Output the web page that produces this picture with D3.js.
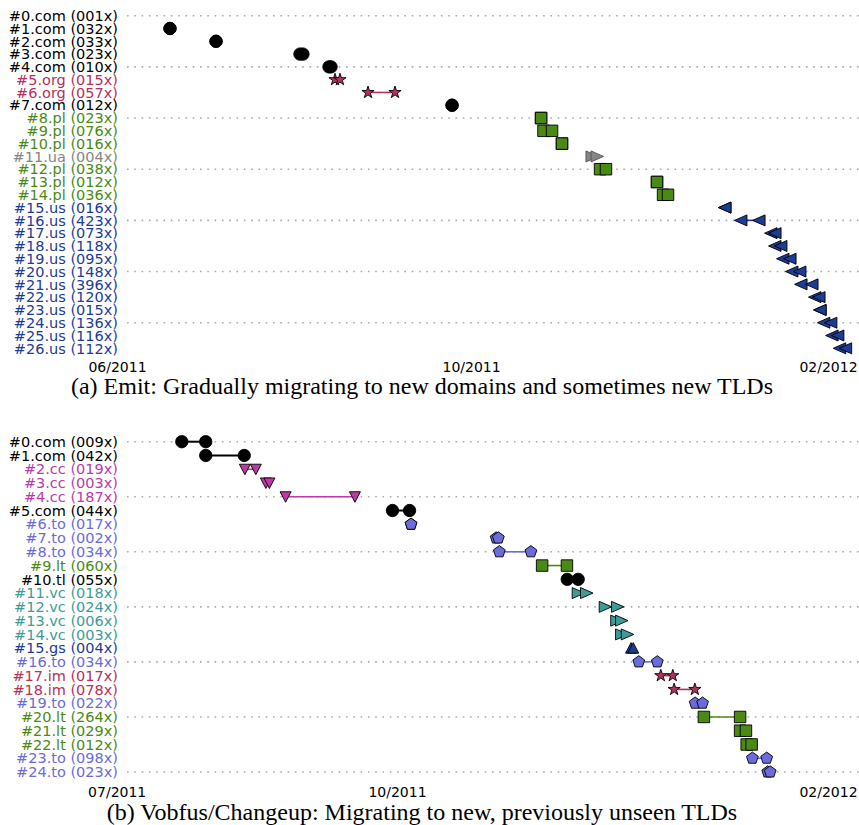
<!DOCTYPE html>
<html>
<head>
<meta charset="utf-8">
<script src="https://cdn.jsdelivr.net/npm/d3@7"></script>
<style>
  body { margin: 0; background: #fff; }
</style>
</head>
<body>
<div id="chart"></div>
<script>
// (a) Emit: one row per domain, first and last day seen
var emitLabels = ["#0.com (001x)", "#1.com (032x)", "#2.com (033x)", "#3.com (023x)", "#4.com (010x)",
  "#5.org (015x)", "#6.org (057x)", "#7.com (012x)", "#8.pl (023x)", "#9.pl (076x)", "#10.pl (016x)",
  "#11.ua (004x)", "#12.pl (038x)", "#13.pl (012x)", "#14.pl (036x)", "#15.us (016x)", "#16.us (423x)",
  "#17.us (073x)", "#18.us (118x)", "#19.us (095x)", "#20.us (148x)", "#21.us (396x)", "#22.us (120x)",
  "#23.us (015x)", "#24.us (136x)", "#25.us (116x)", "#26.us (112x)"];
var emitStart = [null, "2011-06-19 06", "2011-07-05 03", "2011-08-03 01", "2011-08-13 01",
  "2011-08-15 03", "2011-08-26 12", "2011-09-24 11", "2011-10-25 03", "2011-10-25 23", "2011-11-01 08",
  "2011-11-11 16", "2011-11-14 11", "2011-12-04 02", "2011-12-06 04", "2011-12-27 12", "2012-01-02 00",
  "2012-01-12 09", "2012-01-13 18", "2012-01-16 12", "2012-01-19 14", "2012-01-22 17", "2012-01-27 12",
  "2012-01-29 07", "2012-01-30 14", "2012-02-02 10", "2012-02-05 01"];
var emitEnd = [null, "2011-06-19 06", "2011-07-05 03", "2011-08-04 02", "2011-08-13 18",
  "2011-08-16 20", "2011-09-04 19", "2011-09-24 11", "2011-10-25 03", "2011-10-28 22", "2011-11-01 08",
  "2011-11-13 10", "2011-11-16 12", "2011-12-04 02", "2011-12-07 21", "2011-12-27 12", "2012-01-08 06",
  "2012-01-13 18", "2012-01-15 19", "2012-01-18 22", "2012-01-22 08", "2012-01-26 12", "2012-01-28 22",
  "2012-01-29 07", "2012-02-02 00", "2012-02-04 10", "2012-02-07 02"];
var emitTicks = ["2011-06-01 00", "2011-10-01 00", "2012-02-01 00"];
var emitCaption = "(a) Emit: Gradually migrating to new domains and sometimes new TLDs";

// (b) Vobfus/Changeup
var vobLabels = ["#0.com (009x)", "#1.com (042x)", "#2.cc (019x)", "#3.cc (003x)", "#4.cc (187x)",
  "#5.com (044x)", "#6.to (017x)", "#7.to (002x)", "#8.to (034x)", "#9.lt (060x)", "#10.tl (055x)",
  "#11.vc (018x)", "#12.vc (024x)", "#13.vc (006x)", "#14.vc (003x)", "#15.gs (004x)", "#16.to (034x)",
  "#17.im (017x)", "#18.im (078x)", "#19.to (022x)", "#20.lt (264x)", "#21.lt (029x)", "#22.lt (012x)",
  "#23.to (098x)", "#24.to (023x)"];
var vobStart = ["2011-07-31 14", "2011-08-07 10", "2011-08-18 14", "2011-08-24 14", "2011-08-30 05",
  "2011-09-29 17", "2011-10-05 00", "2011-10-29 07", "2011-10-30 05", "2011-11-11 10", "2011-11-18 14",
  "2011-11-21 17", "2011-11-29 10", "2011-12-02 17", "2011-12-04 02", "2011-12-06 19", "2011-12-09 00",
  "2011-12-15 07", "2011-12-19 02", "2011-12-25 02", "2011-12-27 14", "2012-01-06 22", "2012-01-08 19",
  "2012-01-10 10", "2012-01-14 19"];
var vobEnd = ["2011-08-07 10", "2011-08-18 10", "2011-08-21 17", "2011-08-25 14", "2011-09-19 00",
  "2011-10-04 14", "2011-10-05 00", "2011-10-29 22", "2011-11-08 05", "2011-11-18 12", "2011-11-21 17",
  "2011-11-24 02", "2011-12-02 22", "2011-12-04 02", "2011-12-05 17", "2011-12-07 10", "2011-12-14 07",
  "2011-12-18 17", "2011-12-25 00", "2011-12-27 05", "2012-01-06 22", "2012-01-08 14", "2012-01-10 05",
  "2012-01-14 12", "2012-01-15 12"];
var vobTicks = ["2011-07-13 00", "2011-10-01 00", "2012-02-01 00"];
var vobCaption = "(b) Vobfus/Changeup: Migrating to new, previously unseen TLDs";

var parseTime = d3.timeParse("%Y-%m-%d %H");

// marker look per TLD
var tldStyle = {
  com: { color: "#000000", shape: "circle" },
  tl:  { color: "#000000", shape: "circle" },
  org: { color: "#b5305c", shape: "star" },
  im:  { color: "#b5305c", shape: "star" },
  pl:  { color: "#4a8a14", shape: "square" },
  lt:  { color: "#4a8a14", shape: "square" },
  ua:  { color: "#858585", shape: "right", stroke: "#555" },
  us:  { color: "#1c3c98", shape: "left" },
  cc:  { color: "#bb3aa8", shape: "down" },
  to:  { color: "#6b6bdc", shape: "pentagon" },
  vc:  { color: "#3d9c99", shape: "right" },
  gs:  { color: "#1c3c98", shape: "up" }
};

var pentagon = d3.range(5).map(function (k) {
  var a = -Math.PI / 2 + k * 2 * Math.PI / 5;
  return [6.2 * Math.cos(a), 6.2 * Math.sin(a)];
});

var shapePath = {
  circle: d3.symbol(d3.symbolCircle, 120)(),
  square: d3.symbol(d3.symbolSquare, 132)(),
  star: d3.symbol(d3.symbolStar, 46)(),
  left: "M6,-5.5L-6.5,0L6,5.5Z",
  right: "M-6,-5.5L6.5,0L-6,5.5Z",
  down: "M-5.5,-5L5.5,-5L0,5.5Z",
  up: "M-5.5,5L5.5,5L0,-5.5Z",
  pentagon: "M" + pentagon.join("L") + "Z"
};

var svg = d3.select("#chart").append("svg")
  .attr("width", 859)
  .attr("height", 825);

function drawPanel(p) {
  var g = svg.append("g");

  var x = d3.scaleTime().domain(p.xDomain.map(parseTime)).range(p.xRange);
  var y = d3.scalePoint().domain(d3.range(p.labels.length)).range(p.yRange);

  var rows = p.labels.map(function (label, i) {
    var tld = label.split(" ")[0].split(".")[1];
    return {
      i: i,
      label: label,
      style: tldStyle[tld],
      start: p.starts[i] ? parseTime(p.starts[i]) : null,
      end: p.ends[i] ? parseTime(p.ends[i]) : null
    };
  });

  // dotted guide every 4th row
  g.selectAll(".grid")
    .data(rows.filter(function (d) { return d.i % 4 === 0; }))
    .enter()
    .append("line")
    .attr("x1", 127)
    .attr("x2", 859)
    .attr("y1", function (d) { return y(d.i); })
    .attr("y2", function (d) { return y(d.i); })
    .attr("stroke", "#aaaaaa")
    .attr("stroke-width", 1.6)
    .attr("stroke-dasharray", "1.6,5.7");

  var seen = rows.filter(function (d) { return d.start; });

  // line from first to last sighting
  g.selectAll(".span")
    .data(seen)
    .enter()
    .append("line")
    .attr("x1", function (d) { return x(d.start); })
    .attr("x2", function (d) { return x(d.end); })
    .attr("y1", function (d) { return y(d.i); })
    .attr("y2", function (d) { return y(d.i); })
    .attr("stroke", function (d) { return d.style.color; })
    .attr("stroke-width", function (d) { return d.style.shape === "circle" ? 2 : 1.6; });

  var marks = [];
  seen.forEach(function (d) {
    marks.push({ row: d, t: d.start });
    marks.push({ row: d, t: d.end });
  });

  g.selectAll(".mark")
    .data(marks)
    .enter()
    .append("path")
    .attr("d", function (m) { return shapePath[m.row.style.shape]; })
    .attr("transform", function (m) {
      return "translate(" + x(m.t) + "," + y(m.row.i) + ")";
    })
    .attr("fill", function (m) { return m.row.style.color; })
    .attr("stroke", function (m) { return m.row.style.stroke || "#000"; })
    .attr("stroke-width", 0.9)
    .attr("stroke-linejoin", "miter");

  // row labels
  g.selectAll(".label")
    .data(rows)
    .enter()
    .append("text")
    .attr("x", 118)
    .attr("y", function (d) { return y(d.i); })
    .attr("dy", "0.36em")
    .attr("text-anchor", "end")
    .attr("font-family", "DejaVu Sans")
    .attr("font-size", "14.5px")
    .attr("fill", function (d) { return d.style.color; })
    .text(function (d) { return d.label; });

  var axis = d3.axisBottom(x)
    .tickValues(p.ticks.map(parseTime))
    .tickFormat(d3.timeFormat("%m/%Y"))
    .tickSize(0)
    .tickPadding(0);

  var ax = g.append("g")
    .attr("transform", "translate(0," + p.tickY + ")")
    .call(axis);
  ax.select(".domain").remove();
  ax.selectAll("text")
    .attr("font-family", "DejaVu Sans")
    .attr("font-size", "14px")
    .attr("fill", "#000");

  g.append("text")
    .attr("x", 422)
    .attr("y", p.captionY)
    .attr("text-anchor", "middle")
    .attr("font-family", "Liberation Serif")
    .attr("font-size", "24px")
    .attr("fill", "#000")
    .text(p.caption);
}

drawPanel({
  labels: emitLabels, starts: emitStart, ends: emitEnd, ticks: emitTicks, caption: emitCaption,
  xDomain: ["2011-06-01 00", "2012-02-01 00"], xRange: [117, 828],
  yRange: [15.7, 348.3], tickY: 362, captionY: 394
});

drawPanel({
  labels: vobLabels, starts: vobStart, ends: vobEnd, ticks: vobTicks, caption: vobCaption,
  xDomain: ["2011-10-01 00", "2012-02-01 00"], xRange: [397, 828],
  yRange: [441.7, 772], tickY: 787, captionY: 820
});
</script>
</body>
</html>
